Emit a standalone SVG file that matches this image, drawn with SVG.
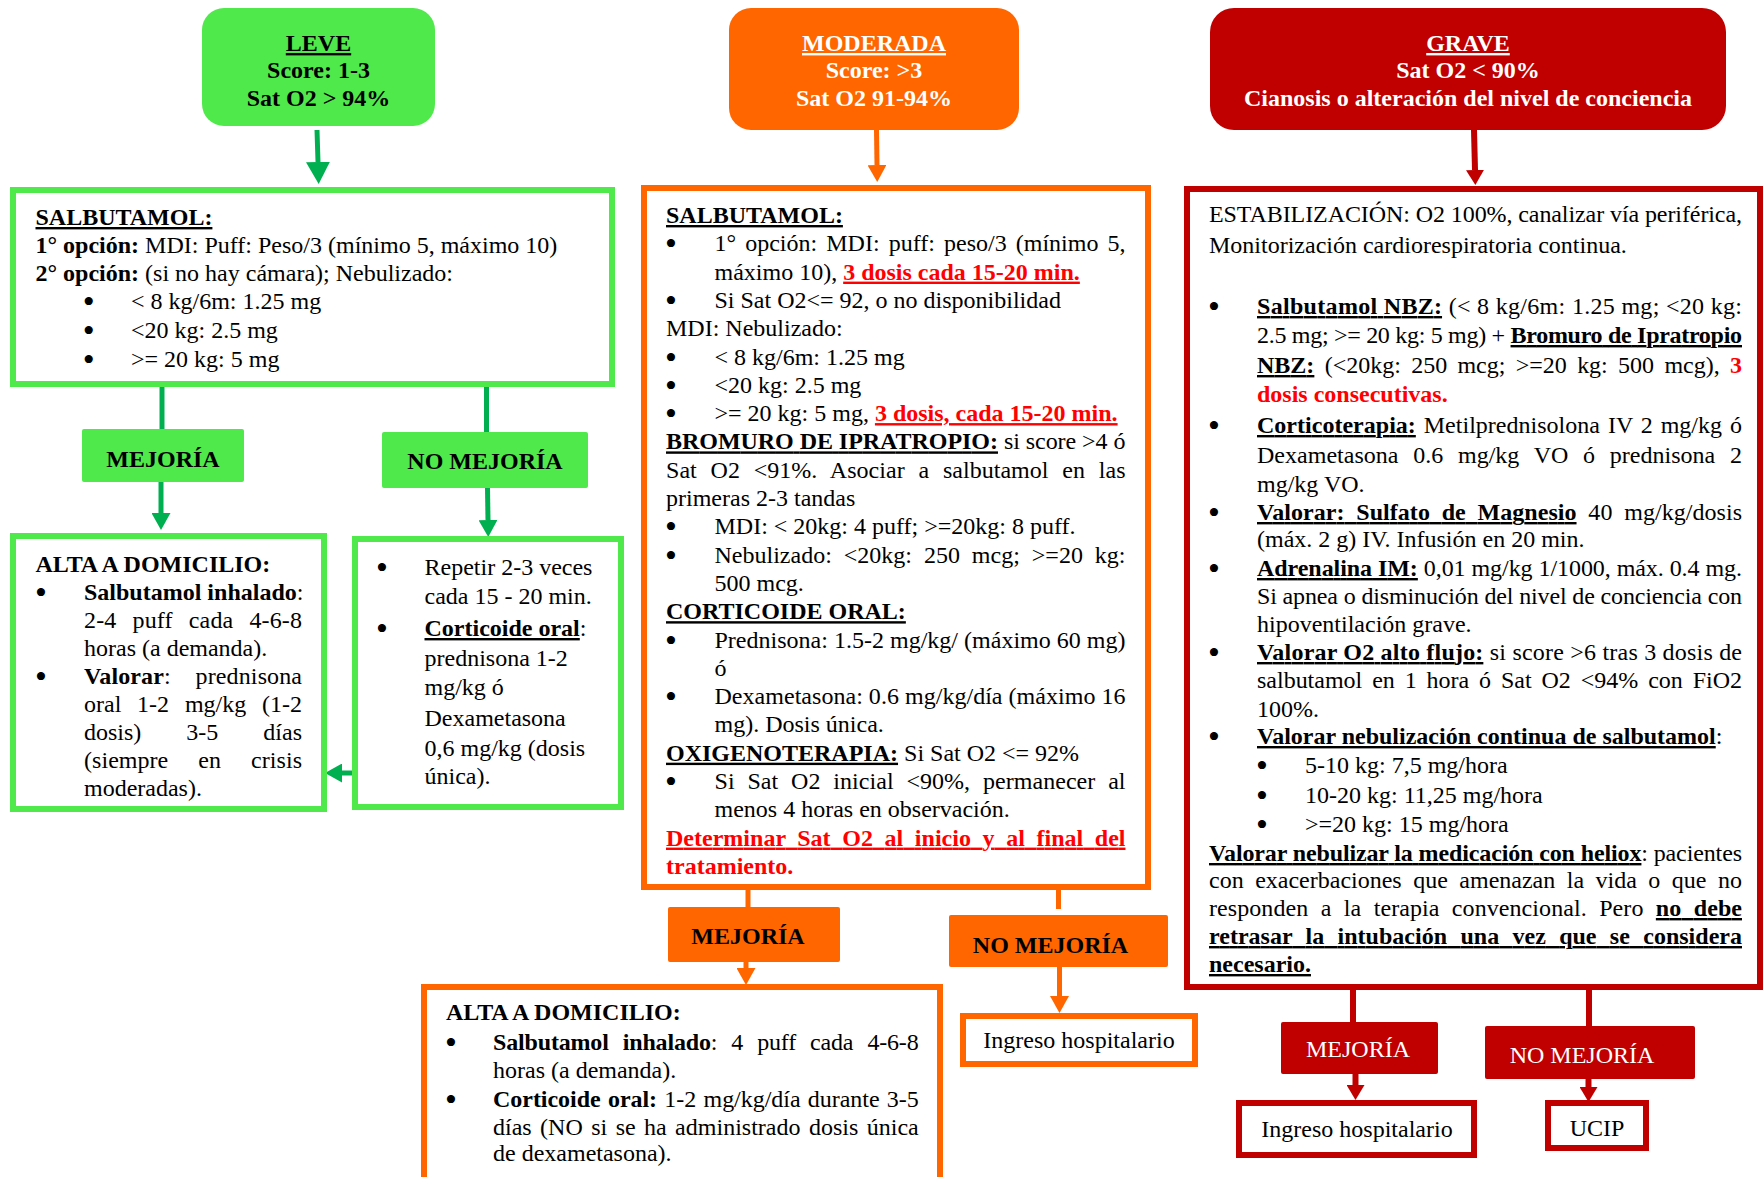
<svg xmlns="http://www.w3.org/2000/svg" width="1763" height="1177" viewBox="0 0 1763 1177">
<style>
text { font-family: "Liberation Serif", "Times New Roman", serif; font-size: 24px; fill: #000; }
.b { font-weight: 700; }
.u { text-decoration: underline; }
.red { fill: #FF0000; }
.wh { fill: #FFFFFF; }
.mid { text-anchor: middle; }
.bl { font-size: 34px; text-anchor: middle; }
.gbox { fill: #fff; stroke: #50E94B; stroke-width: 6; }
.obox { fill: #fff; stroke: #FF6600; stroke-width: 6; }
.rbox { fill: #fff; stroke: #C00000; stroke-width: 6; }
.gfill { fill: #50E94B; }
.ofill { fill: #FF6600; }
.rfill { fill: #C00000; }
.cg { stroke: #00B050; fill: none; stroke-width: 5; }
.co { stroke: #FF6600; fill: none; stroke-width: 5; }
.cr { stroke: #C00000; fill: none; stroke-width: 6; }
</style>
<defs>
<marker id="agL" markerUnits="userSpaceOnUse" markerWidth="22" markerHeight="24" viewBox="0 0 22 24" refX="0" refY="12" orient="auto"><path d="M0,0 L22,12 L0,24 z" fill="#00B050"/></marker>
<marker id="ag" markerUnits="userSpaceOnUse" markerWidth="17" markerHeight="19" viewBox="0 0 17 19" refX="0" refY="9.5" orient="auto"><path d="M0,0 L17,9.5 L0,19 z" fill="#00B050"/></marker>
<marker id="ao" markerUnits="userSpaceOnUse" markerWidth="17" markerHeight="19" viewBox="0 0 17 19" refX="0" refY="9.5" orient="auto"><path d="M0,0 L17,9.5 L0,19 z" fill="#FF6600"/></marker>
<marker id="ar" markerUnits="userSpaceOnUse" markerWidth="15" markerHeight="18" viewBox="0 0 15 18" refX="0" refY="9" orient="auto"><path d="M0,0 L15,9 L0,18 z" fill="#C00000"/></marker>
</defs>
<rect width="1763" height="1177" fill="#fff"/>

<g id="connectors">
<line class="cg" x1="317" y1="130" x2="318" y2="162" stroke-width="9" marker-end="url(#agL)"/>
<line class="cg" x1="162" y1="387" x2="162" y2="430"/>
<line class="cg" x1="486.5" y1="387" x2="486.5" y2="433"/>
<line class="cg" x1="161" y1="482" x2="161" y2="513" marker-end="url(#ag)"/>
<line class="cg" x1="487.5" y1="488" x2="488" y2="520" marker-end="url(#ag)"/>
<line class="cg" x1="355" y1="773" x2="342" y2="773" stroke-width="7" marker-end="url(#ag)"/>
<line class="co" x1="876.5" y1="130" x2="877" y2="165" marker-end="url(#ao)"/>
<line class="co" x1="748" y1="890" x2="748" y2="907"/>
<line class="co" x1="1058.5" y1="890" x2="1058.5" y2="909"/>
<line class="co" x1="746" y1="962" x2="746" y2="968" marker-end="url(#ao)"/>
<line class="co" x1="1059.5" y1="967" x2="1059.5" y2="996" marker-end="url(#ao)"/>
<line class="cr" x1="1474" y1="130" x2="1475" y2="170" marker-end="url(#ar)"/>
<line class="cr" x1="1353" y1="990" x2="1353" y2="1022"/>
<line class="cr" x1="1589" y1="990" x2="1589" y2="1027"/>
<line class="cr" x1="1355.5" y1="1074" x2="1355.5" y2="1085" marker-end="url(#ar)"/>
<line class="cr" x1="1588.5" y1="1079" x2="1588.5" y2="1087" marker-end="url(#ar)"/>
</g>

<g id="leve">
<rect class="gfill" x="202" y="8" width="233" height="118" rx="22"/>
<text x="318.5" y="51" class="mid b u">LEVE</text>
<text x="318.5" y="78" class="mid b">Score: 1-3</text>
<text x="318.5" y="106" class="mid b">Sat O2 &gt; 94%</text>
</g>

<g id="leve-salbutamol">
<rect class="gbox" x="13" y="190" width="599" height="194"/>
<text x="35.5" y="225" class="b u">SALBUTAMOL:</text>
<text x="35.5" y="252.5"><tspan class="b">1° opción:</tspan> MDI: Puff: Peso/3 (mínimo 5, máximo 10)</text>
<text x="35.5" y="280.5"><tspan class="b">2° opción:</tspan> (si no hay cámara); Nebulizado:</text>
<text x="88.6" y="313" class="bl">•</text><text x="131" y="309">&lt; 8 kg/6m: 1.25 mg</text>
<text x="88.6" y="342" class="bl">•</text><text x="131" y="338">&lt;20 kg: 2.5 mg</text>
<text x="88.6" y="371" class="bl">•</text><text x="131" y="367">&gt;= 20 kg: 5 mg</text>
</g>

<g id="leve-mejoria">
<rect class="gfill" x="82" y="429" width="162" height="53" rx="2"/>
<text x="163" y="467" class="mid b">MEJORÍA</text>
</g>

<g id="leve-no-mejoria">
<rect class="gfill" x="382" y="432" width="206" height="56" rx="2"/>
<text x="485" y="469" class="mid b">NO MEJORÍA</text>
</g>

<g id="leve-alta">
<rect class="gbox" x="13" y="536" width="311" height="273"/>
<text x="35.5" y="572" class="b">ALTA A DOMICILIO:</text>
<text x="41" y="604" class="bl">•</text><text x="84" y="600"><tspan class="b">Salbutamol inhalado</tspan>:</text>
<text x="84" y="628" textLength="218" lengthAdjust="spacing" style="word-spacing:10px">2-4 puff cada 4-6-8</text>
<text x="84" y="655.5">horas (a demanda).</text>
<text x="41" y="688" class="bl">•</text><text x="84" y="684" textLength="218" lengthAdjust="spacing" style="word-spacing:18.7px"><tspan class="b">Valorar</tspan>: prednisona</text>
<text x="84" y="712" textLength="218" lengthAdjust="spacing" style="word-spacing:9.8px">oral 1-2 mg/kg (1-2</text>
<text x="84" y="740" textLength="218" lengthAdjust="spacing" style="word-spacing:39px">dosis) 3-5 días</text>
<text x="84" y="768" textLength="218" lengthAdjust="spacing" style="word-spacing:24px">(siempre en crisis</text>
<text x="84" y="795.5">moderadas).</text>
</g>

<g id="leve-repetir">
<rect class="gbox" x="355" y="539" width="266" height="268"/>
<text x="382" y="579" class="bl">•</text><text x="424.5" y="575">Repetir 2-3 veces</text>
<text x="424.5" y="604">cada 15 - 20 min.</text>
<text x="382" y="640" class="bl">•</text><text x="424.5" y="636"><tspan class="b u">Corticoide oral</tspan>:</text>
<text x="424.5" y="666">prednisona 1-2</text>
<text x="424.5" y="695">mg/kg ó</text>
<text x="424.5" y="726">Dexametasona</text>
<text x="424.5" y="756">0,6 mg/kg (dosis</text>
<text x="424.5" y="784">única).</text>
</g>

<g id="moderada">
<rect class="ofill" x="729" y="8" width="290" height="122" rx="22"/>
<text x="874" y="51" class="mid b u wh">MODERADA</text>
<text x="874" y="78" class="mid b wh">Score: &gt;3</text>
<text x="874" y="106" class="mid b wh">Sat O2 91-94%</text>
</g>

<g id="moderada-tratamiento">
<rect class="obox" x="644" y="188" width="504" height="699"/>
<text x="666" y="223" class="b u">SALBUTAMOL:</text>
<text x="671" y="255.3" class="bl">•</text><text x="714.5" y="251.3" textLength="411" lengthAdjust="spacing" style="word-spacing:3px">1° opción: MDI: puff: peso/3 (mínimo 5,</text>
<text x="714.5" y="279.6">máximo 10), <tspan class="b u red">3 dosis cada 15-20 min.</tspan></text>
<text x="671" y="311.9" class="bl">•</text><text x="714.5" y="307.9">Si Sat O2&lt;= 92, o no disponibilidad</text>
<text x="666" y="336.2">MDI: Nebulizado:</text>
<text x="671" y="368.5" class="bl">•</text><text x="714.5" y="364.5">&lt; 8 kg/6m: 1.25 mg</text>
<text x="671" y="396.8" class="bl">•</text><text x="714.5" y="392.8">&lt;20 kg: 2.5 mg</text>
<text x="671" y="425.1" class="bl">•</text><text x="714.5" y="421.1">&gt;= 20 kg: 5 mg, <tspan class="b u red">3 dosis, cada 15-20 min.</tspan></text>
<text x="666" y="449.4" textLength="459.5" lengthAdjust="spacing"><tspan class="b u">BROMURO DE IPRATROPIO:</tspan> si score &gt;4 ó</text>
<text x="666" y="477.7" textLength="459.5" lengthAdjust="spacing" style="word-spacing:7.7px">Sat O2 &lt;91%. Asociar a salbutamol en las</text>
<text x="666" y="506">primeras 2-3 tandas</text>
<text x="671" y="538.3" class="bl">•</text><text x="714.5" y="534.3">MDI: &lt; 20kg: 4 puff; &gt;=20kg: 8 puff.</text>
<text x="671" y="566.6" class="bl">•</text><text x="714.5" y="562.6" textLength="411" lengthAdjust="spacing" style="word-spacing:5.9px">Nebulizado: &lt;20kg: 250 mcg; &gt;=20 kg:</text>
<text x="714.5" y="590.9">500 mcg.</text>
<text x="666" y="619.2" class="b u">CORTICOIDE ORAL:</text>
<text x="671" y="651.5" class="bl">•</text><text x="714.5" y="647.5" textLength="411" lengthAdjust="spacing">Prednisona: 1.5-2 mg/kg/ (máximo 60 mg)</text>
<text x="714.5" y="675.8">ó</text>
<text x="671" y="708.1" class="bl">•</text><text x="714.5" y="704.1" textLength="411" lengthAdjust="spacing">Dexametasona: 0.6 mg/kg/día (máximo 16</text>
<text x="714.5" y="732.4">mg). Dosis única.</text>
<text x="666" y="760.7"><tspan class="b u">OXIGENOTERAPIA:</tspan> Si Sat O2 &lt;= 92%</text>
<text x="671" y="793" class="bl">•</text><text x="714.5" y="789" textLength="411" lengthAdjust="spacing" style="word-spacing:6.8px">Si Sat O2 inicial &lt;90%, permanecer al</text>
<text x="714.5" y="817.3">menos 4 horas en observación.</text>
<text x="666" y="845.6" class="b u red" textLength="459.5" lengthAdjust="spacing" style="word-spacing:5.6px">Determinar Sat O2 al inicio y al final del</text>
<text x="666" y="873.9" class="b red">tratamiento.</text>
</g>

<g id="moderada-mejoria">
<rect class="ofill" x="668" y="907" width="172" height="55" rx="2"/>
<text x="748" y="944" class="mid b">MEJORÍA</text>
</g>

<g id="moderada-no-mejoria">
<rect class="ofill" x="949" y="915" width="219" height="52" rx="2"/>
<text x="1050.5" y="953" class="mid b">NO MEJORÍA</text>
</g>

<g id="moderada-alta">
<rect class="obox" x="424" y="987" width="516" height="250"/>
<text x="446" y="1020" class="b">ALTA A DOMICILIO:</text>
<text x="451" y="1054" class="bl">•</text><text x="493" y="1050" textLength="425.7" lengthAdjust="spacing" style="word-spacing:8.2px"><tspan class="b">Salbutamol inhalado</tspan>: 4 puff cada 4-6-8</text>
<text x="493" y="1078">horas (a demanda).</text>
<text x="451" y="1111" class="bl">•</text><text x="493" y="1107" textLength="425.7" lengthAdjust="spacing" style="word-spacing:1.3px"><tspan class="b">Corticoide oral:</tspan> 1-2 mg/kg/día durante 3-5</text>
<text x="493" y="1135" textLength="425.7" lengthAdjust="spacing" style="word-spacing:2.4px">días (NO si se ha administrado dosis única</text>
<text x="493" y="1161">de dexametasona).</text>
</g>

<g id="moderada-ingreso">
<rect class="obox" x="963" y="1016" width="232" height="48"/>
<text x="1079" y="1048" class="mid">Ingreso hospitalario</text>
</g>

<g id="grave">
<rect class="rfill" x="1210" y="8" width="516" height="122" rx="24"/>
<text x="1468" y="51" class="mid b u wh">GRAVE</text>
<text x="1468" y="78" class="mid b wh">Sat O2 &lt; 90%</text>
<text x="1468" y="106" class="mid b wh">Cianosis o alteración del nivel de conciencia</text>
</g>

<g id="grave-tratamiento">
<rect class="rbox" x="1187" y="189" width="573" height="798"/>
<text x="1209" y="222" textLength="533" lengthAdjust="spacing">ESTABILIZACIÓN: O2 100%, canalizar vía periférica,</text>
<text x="1209" y="253">Monitorización cardiorespiratoria continua.</text>
<text x="1214" y="318" class="bl">•</text><text x="1257" y="314" textLength="485" lengthAdjust="spacing"><tspan class="b u">Salbutamol NBZ:</tspan> (&lt; 8 kg/6m: 1.25 mg; &lt;20 kg:</text>
<text x="1257" y="343" textLength="485" lengthAdjust="spacing">2.5 mg; &gt;= 20 kg: 5 mg) + <tspan class="b u">Bromuro de Ipratropio</tspan></text>
<text x="1257" y="373" textLength="485" lengthAdjust="spacing" style="word-spacing:4.3px"><tspan class="b u">NBZ:</tspan> (&lt;20kg: 250 mcg; &gt;=20 kg: 500 mcg), <tspan class="b red">3</tspan></text>
<text x="1257" y="402" class="b red">dosis consecutivas.</text>
<text x="1214" y="437" class="bl">•</text><text x="1257" y="433" textLength="485" lengthAdjust="spacing" style="word-spacing:1.9px"><tspan class="b u">Corticoterapia:</tspan> Metilprednisolona IV 2 mg/kg ó</text>
<text x="1257" y="463" textLength="485" lengthAdjust="spacing" style="word-spacing:8.7px">Dexametasona 0.6 mg/kg VO ó prednisona 2</text>
<text x="1257" y="492">mg/kg VO.</text>
<text x="1214" y="524" class="bl">•</text><text x="1257" y="520" textLength="485" lengthAdjust="spacing" style="word-spacing:5.7px"><tspan class="b u">Valorar: Sulfato de Magnesio</tspan> 40 mg/kg/dosis</text>
<text x="1257" y="547">(máx. 2 g) IV. Infusión en 20 min.</text>
<text x="1214" y="580" class="bl">•</text><text x="1257" y="576" textLength="485" lengthAdjust="spacing"><tspan class="b u">Adrenalina IM:</tspan> 0,01 mg/kg 1/1000, máx. 0.4 mg.</text>
<text x="1257" y="604" textLength="485" lengthAdjust="spacing">Si apnea o disminución del nivel de conciencia con</text>
<text x="1257" y="632">hipoventilación grave.</text>
<text x="1214" y="664" class="bl">•</text><text x="1257" y="660" textLength="485" lengthAdjust="spacing"><tspan class="b u">Valorar O2 alto flujo:</tspan> si score &gt;6 tras 3 dosis de</text>
<text x="1257" y="688" textLength="485" lengthAdjust="spacing" style="word-spacing:3.9px">salbutamol en 1 hora ó Sat O2 &lt;94% con FiO2</text>
<text x="1257" y="717">100%.</text>
<text x="1214" y="748" class="bl">•</text><text x="1257" y="744"><tspan class="b u">Valorar nebulización continua de salbutamol</tspan>:</text>
<text x="1262" y="777" class="bl">•</text><text x="1305" y="773">5-10 kg: 7,5 mg/hora</text>
<text x="1262" y="807" class="bl">•</text><text x="1305" y="803">10-20 kg: 11,25 mg/hora</text>
<text x="1262" y="836" class="bl">•</text><text x="1305" y="832">&gt;=20 kg: 15 mg/hora</text>
<text x="1209" y="861" textLength="533" lengthAdjust="spacing"><tspan class="b u">Valorar nebulizar la medicación con heliox</tspan>: pacientes</text>
<text x="1209" y="888" textLength="533" lengthAdjust="spacing" style="word-spacing:5.5px">con exacerbaciones que amenazan la vida o que no</text>
<text x="1209" y="916" textLength="533" lengthAdjust="spacing" style="word-spacing:6.3px">responden a la terapia convencional. Pero <tspan class="b u">no debe</tspan></text>
<text x="1209" y="944" class="b u" textLength="533" lengthAdjust="spacing" style="word-spacing:7.3px">retrasar la intubación una vez que se considera</text>
<text x="1209" y="972" class="b u">necesario.</text>
</g>

<g id="grave-mejoria">
<rect class="rfill" x="1281" y="1022" width="157" height="52" rx="2"/>
<text x="1358" y="1057" class="mid wh">MEJORÍA</text>
</g>

<g id="grave-no-mejoria">
<rect class="rfill" x="1485" y="1026" width="210" height="53" rx="2"/>
<text x="1582" y="1063" class="mid wh">NO MEJORÍA</text>
</g>

<g id="grave-ingreso">
<rect class="rbox" x="1239" y="1103" width="235" height="52"/>
<text x="1357" y="1137" class="mid">Ingreso hospitalario</text>
</g>

<g id="grave-ucip">
<rect class="rbox" x="1548" y="1103" width="98" height="45"/>
<text x="1597" y="1136" class="mid">UCIP</text>
</g>
</svg>
